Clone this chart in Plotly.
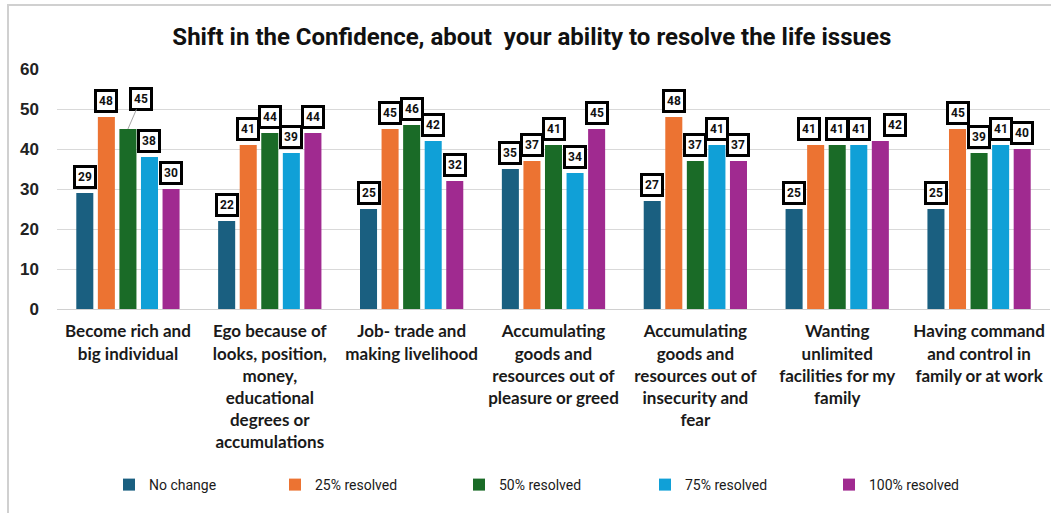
import plotly.graph_objects as go

categories = [
    "Become rich and<br>big individual",
    "Ego because of<br>looks, position,<br>money,<br>educational<br>degrees or<br>accumulations",
    "Job- trade and<br>making livelihood",
    "Accumulating<br>goods and<br>resources out of<br>pleasure or greed",
    "Accumulating<br>goods and<br>resources out of<br>insecurity and<br>fear",
    "Wanting<br>unlimited<br>facilities for my<br>family",
    "Having command<br>and control in<br>family or at work",
]
series_names = ["No change", "25% resolved", "50% resolved", "75% resolved", "100% resolved"]
no_change = [29, 22, 25, 35, 27, 25, 25]
resolved_25 = [48, 41, 45, 37, 48, 41, 45]
resolved_50 = [45, 44, 46, 41, 37, 41, 39]
resolved_75 = [38, 39, 42, 34, 41, 41, 41]
resolved_100 = [30, 44, 32, 45, 37, 42, 40]
colors = ["#1a5f80", "#ec7332", "#1a6b27", "#10a0d7", "#a02a90"]
y_ticks = [0, 10, 20, 30, 40, 50, 60]

all_series = [no_change, resolved_25, resolved_50, resolved_75, resolved_100]

BARGAP = 0.24
GROUPGAP = 0.21
PLOT_L, PLOT_W = 57, 993
legend_marker_px = [129, 295, 479, 665, 849]
legend_ids = ["legend", "legend2", "legend3", "legend4", "legend5"]

fig = go.Figure()
for name, vals, col, lid in zip(series_names, all_series, colors, legend_ids):
    fig.add_trace(go.Bar(x=categories, y=vals, name=name, marker_color=col,
                         marker_line_width=0, legend=lid, showlegend=True))

# data label boxes
groupw = 1 - BARGAP
slot = groupw / len(all_series)
label_xshift = {(5, 1): -7, (5, 4): 15}
annotations = []
for j, vals in enumerate(all_series):
    off = -groupw / 2 + slot * (j + 0.5)
    for i, v in enumerate(vals):
        common = dict(text=f"<b>{v}</b>", font=dict(family="Roboto", size=12, color="#111"),
                      bgcolor="white", bordercolor="black", borderwidth=3, borderpad=2,
                      xref="x", yref="y")
        if (i, j) == (0, 2):
            annotations.append(dict(x=i + off, y=v, showarrow=True, arrowhead=0,
                                    arrowcolor="#a6a6a6", arrowwidth=1, ax=13, ay=-30,
                                    **common))
        else:
            annotations.append(dict(x=i + off, y=v + 4, showarrow=False, yanchor="middle",
                                    xshift=label_xshift.get((i, j), 0), **common))

legends = {}
for lid, mx in zip(legend_ids, legend_marker_px):
    legends[lid] = dict(orientation="h", x=(mx - 20 - PLOT_L) / PLOT_W, xanchor="left",
                        y=(309 - 485) / 240, yanchor="middle",
                        font=dict(family="Roboto", size=14, color="#1a1a1a"),
                        bgcolor="rgba(0,0,0,0)")

fig.update_layout(
    width=1051, height=513,
    margin=dict(l=PLOT_L, r=1, t=69, b=204),
    paper_bgcolor="white", plot_bgcolor="white",
    showlegend=True,
    barmode="group", bargap=BARGAP, bargroupgap=GROUPGAP,
    title=dict(text="<b>Shift in the Confidence, about  your ability to resolve the life issues</b>",
               x=0.506, xref="container", xanchor="center", y=1 - 37 / 513, yanchor="middle",
               font=dict(family="Roboto", size=24, color="#111")),
    font=dict(family="Lato", color="#1a1a1a"),
    xaxis=dict(tickfont=dict(family="Lato", size=17, color="#1a1a1a", weight="bold"),
               showline=True, linecolor="#d0d0d0", ticks="", tickangle=0,
               ticklabelstandoff=7),
    yaxis=dict(range=[0, 60], tickvals=y_ticks, showgrid=True, gridcolor="#d9d9d9",
               zeroline=False,
               tickfont=dict(family="Liberation Sans", size=17, color="#222", weight="bold"),
               ticklabelstandoff=17),
    annotations=annotations,
    shapes=[dict(type="rect", xref="paper", yref="paper",
                 x0=(8 - PLOT_L) / PLOT_W, x1=(1070 - PLOT_L) / PLOT_W,
                 y0=(309 - 530) / 240, y1=(309 - 5) / 240,
                 line=dict(color="#d0d0d0", width=2), fillcolor="rgba(0,0,0,0)", layer="below")],
    **legends,
)

fig.write_html("out.html", config={"displayModeBar": False},
               post_script="document.body.style.margin='0';")
